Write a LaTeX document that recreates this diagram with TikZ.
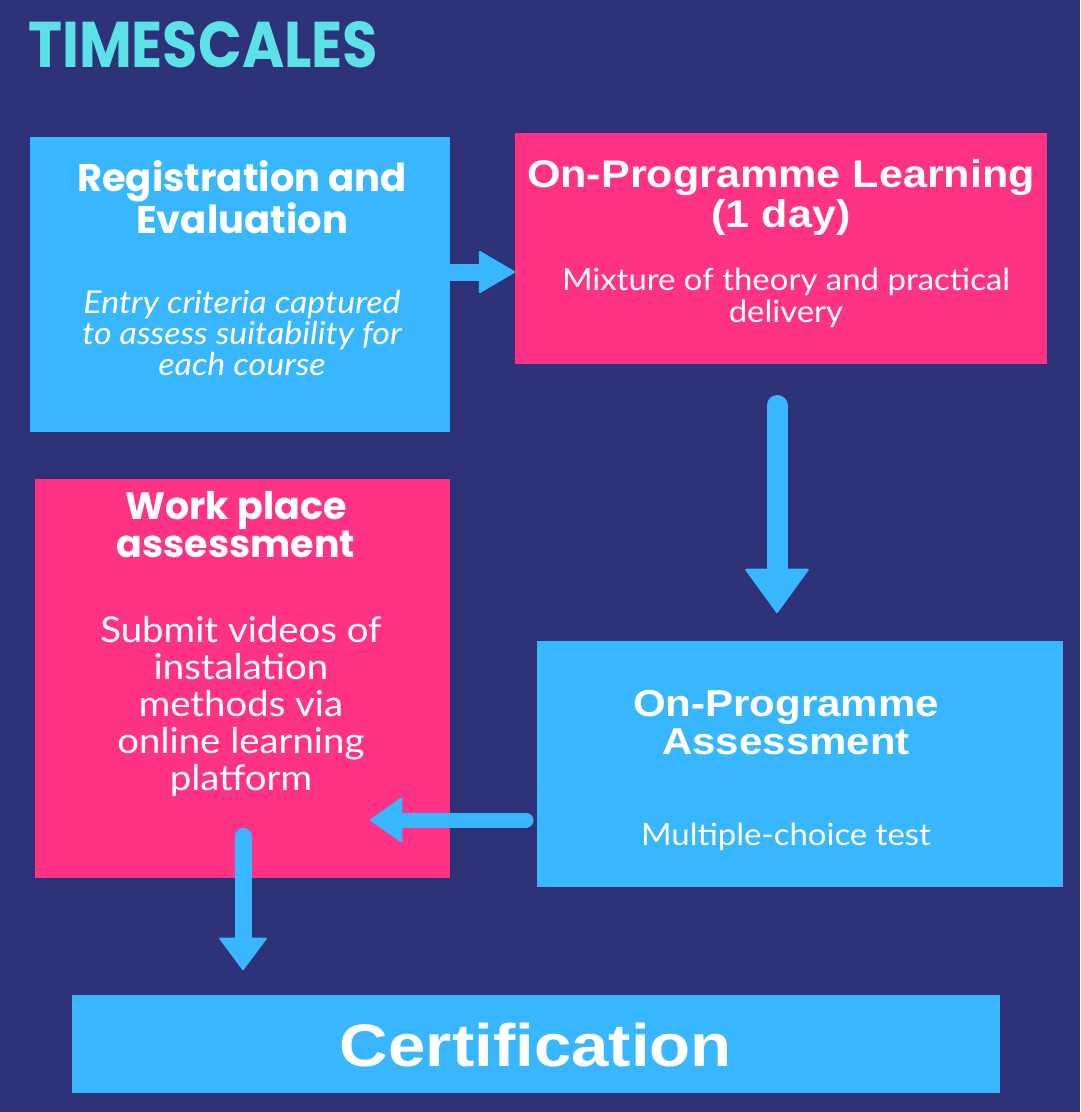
\documentclass[tikz,border=0pt]{standalone}
\usepackage{fontspec}
\setmainfont{Lato}[FakeStretch=1.08]
\newfontfamily\poppins{Poppins}
\newfontfamily\arialw{Liberation Sans}[FakeStretch=1.12]
\usetikzlibrary{arrows.meta}
\definecolor{navy}{RGB}{45,50,121}
\definecolor{bblue}{RGB}{56,182,255}
\definecolor{bpink}{RGB}{255,51,133}
\definecolor{tcyan}{RGB}{92,225,230}
\tikzset{
  box/.style={draw=none, inner sep=0pt, outer sep=0pt},
  txt/.style={text=white, align=center, inner sep=0pt},
  flow/.style={draw=bblue, line cap=round, line width=#1},
}
\begin{document}
\begin{tikzpicture}[x=1pt,y=-1pt]
\fill[navy] (0,0) rectangle (1080,1112);
\useasboundingbox (0,0) rectangle (1080,1112);

% title
\node[anchor=south west, inner sep=0pt, text=tcyan] (title) at (28,68)
  {\resizebox{350pt}{46pt}{\poppins\bfseries TIMESCALES}};

% boxes
\node[box, fill=bblue, minimum width=420pt, minimum height=295pt] (reg) at (240,284.5) {};
\node[box, fill=bpink, minimum width=532pt, minimum height=231pt] (learn) at (781,248.5) {};
\node[box, fill=bpink, minimum width=415pt, minimum height=399pt] (work) at (242.5,678.5) {};
\node[box, fill=bblue, minimum width=526pt, minimum height=246pt] (assess) at (800,764) {};
\node[box, fill=bblue, minimum width=928pt, minimum height=98pt] (cert) at (536,1044) {};

% texts
\node[txt, font=\poppins\bfseries\fontsize{38.5}{40}\selectfont] (regh) at (242,197)
  {Registration and\\Evaluation};
\node[txt, font=\itshape\fontsize{31.5}{31}\selectfont] (regb) at (242,333)
  {Entry criteria captured\\to assess suitability for\\each course};
\node[txt, font=\arialw\bfseries\fontsize{38.5}{40}\selectfont] (learnh) at (781,198)
  {On-Programme Learning\\(1 day)};
\node[txt, font=\fontsize{30.5}{32}\selectfont] (learnb) at (786,298)
  {Mixture of theory and practical\\delivery};
\node[txt, font=\poppins\bfseries\fontsize{38}{38}\selectfont] (workh) at (236,525)
  {Work place\\assessment};
\node[txt, font=\fontsize{35.5}{37}\selectfont] (workb) at (241,706)
  {Submit videos of\\instalation\\methods via\\online learning\\platform};
\node[txt, font=\arialw\bfseries\fontsize{37.5}{38}\selectfont] (assessh) at (786,723)
  {On-Programme\\Assessment};
\node[txt, font=\fontsize{30.5}{30}\selectfont] (assessb) at (786,837)
  {Multiple-choice test};
\node[txt, font=\arialw\bfseries\fontsize{60}{60}\selectfont] (certt) at (536,1045)
  {Certification};

% connectors
\draw[flow=17pt, -{Triangle[length=37pt,width=43pt,round,line width=2pt]}]
  ([yshift=12.5pt]reg.east) -- ([yshift=-23.5pt]learn.west);
\draw[flow=21pt, -{Triangle[length=45pt,width=65pt,round,line width=2pt]}]
  ([xshift=-4pt,yshift=-41.5pt]learn.south) -- ([xshift=-23pt,yshift=28pt]assess.north);
\draw[flow=15pt, -{Triangle[length=33pt,width=46pt,round,line width=2pt]}]
  ([xshift=-11pt,yshift=-56pt]assess.west) -- ([xshift=-80pt,yshift=-141.5pt]work.east);
\draw[flow=17pt, -{Triangle[length=33pt,width=49pt,round,line width=2pt]}]
  ([xshift=0.5pt,yshift=41.5pt]work.south) -- ([xshift=-293pt,yshift=25pt]cert.north);
\end{tikzpicture}
\end{document}
